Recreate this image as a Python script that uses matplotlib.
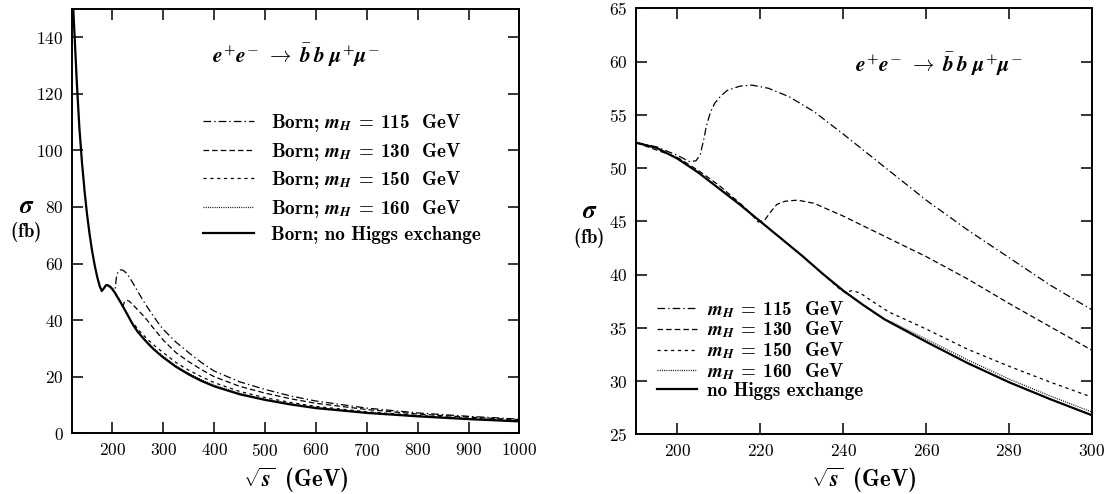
"""Cross section sigma(e+e- -> bbar b mu+ mu-) vs sqrt(s), two panels."""

import matplotlib

matplotlib.use("Agg")
import matplotlib.pyplot as plt  # noqa: E402

plt.rcParams["font.family"] = "cmr10"
plt.rcParams["axes.formatter.use_mathtext"] = True
plt.rcParams["mathtext.fontset"] = "custom"
plt.rcParams["mathtext.rm"] = "cmb10"
plt.rcParams["mathtext.bf"] = "cmb10"
plt.rcParams["mathtext.it"] = "STIXGeneral:italic:bold"
plt.rcParams["mathtext.fallback"] = "cm"
plt.rcParams["lines.scale_dashes"] = False

# no Higgs exchange
rs_none = [120, 123, 126, 130, 135, 140, 145, 150, 155, 160, 165, 170, 175, 179,
           183, 187, 190, 195, 200, 205, 210, 215, 220, 225, 230, 235, 240, 245,
           250, 260, 270, 280, 290, 300, 325, 350, 375, 400, 450, 500, 550, 600,
           700, 800, 900, 1000]
sig_none = [162, 150, 139, 124, 108, 96, 86, 77.5, 70.5, 64.5, 59.5, 55.3, 52.0, 50.3,
            51.2, 52.3, 52.4, 51.9, 50.9, 49.6, 48.1, 46.6, 45.0, 43.4, 41.8, 40.1, 38.5, 37.1,
            35.8, 33.7, 31.7, 29.9, 28.3, 26.8, 23.5, 20.8, 18.5, 16.6, 13.8, 11.8, 10.2, 8.9,
            7.2, 6.0, 5.0, 4.2]

# m_H = 115 GeV
rs_115 = [190, 195, 200, 203, 204.5, 205.5, 206.3, 207, 208, 209, 210.5, 212, 215, 218,
          222, 227, 233, 240, 250, 260, 270, 280, 290, 300, 325, 350, 375, 400, 450,
          500, 550, 600, 700, 800, 900, 1000]
sig_115 = [52.4, 52.0, 51.2, 50.6, 50.7, 51.3, 52.6, 54.0, 55.3, 56.1, 56.8, 57.3, 57.7, 57.8,
           57.5, 56.7, 55.3, 53.2, 50.1, 47.0, 44.2, 41.6, 39.0, 36.7, 32.2, 28.5, 25.0, 22.0, 18.2,
           15.5, 13.2, 11.4, 8.9, 7.2, 6.0, 5.0]

# m_H = 130 GeV
rs_130 = [190, 200, 205, 210, 216, 218, 219.5, 221, 222.5, 224, 226, 229, 233, 240,
          250, 260, 270, 280, 290, 300, 325, 350, 375, 400, 450, 500, 550, 600, 700,
          800, 900, 1000]
sig_130 = [52.4, 51.0, 49.8, 48.4, 46.4, 45.6, 44.95, 45.1, 45.9, 46.6, 46.9, 47.0, 46.7, 45.5,
           43.6, 41.7, 39.6, 37.3, 35.1, 32.9, 28.5, 25.3, 22.5, 20.0, 16.6, 14.2, 12.2, 10.6, 8.4,
           6.8, 5.7, 4.8]

# m_H = 150 GeV
rs_150 = [230, 235, 239, 240.5, 242, 244, 247, 251, 260, 270, 280, 290, 300, 325,
          350, 375, 400, 450, 500, 550, 600, 700, 800, 900, 1000]
sig_150 = [41.8, 40.1, 38.7, 38.3, 38.5, 38.3, 37.5, 36.5, 34.9, 33.0, 31.4, 29.9, 28.5, 25.0,
           22.3, 20.0, 17.9, 14.8, 12.6, 10.9, 9.5, 7.6, 6.3, 5.3, 4.5]

# m_H = 160 GeV
rs_160 = [240, 245, 250, 252, 255, 260, 270, 280, 290, 300, 325, 350, 375, 400,
          450, 500, 550, 600, 700, 800, 900, 1000]
sig_160 = [38.5, 37.1, 35.8, 35.5, 34.9, 33.95, 32.0, 30.2, 28.6, 27.1, 23.8, 21.2, 18.9, 17.0,
           14.1, 12.0, 10.4, 9.1, 7.3, 6.1, 5.1, 4.3]

mass_labels = ["115", "130", "150", "160"]
PROCESS = r"$e^{\!+}\!e^{\!-}\;\to\;\bar{b}\,b\ \mu^{\!+}\!\mu^{\!-}$"

curves = [
    (rs_115, sig_115, dict(color="black", lw=0.9, dashes=(5.5, 2.2, 1, 2.2))),
    (rs_130, sig_130, dict(color="black", lw=0.9, dashes=(4.0, 2.2))),
    (rs_150, sig_150, dict(color="black", lw=0.9, dashes=(2.3, 2.6))),
    (rs_160, sig_160, dict(color="black", lw=0.9, dashes=(0.7, 0.9))),
    (rs_none, sig_none, dict(color="black", lw=1.6)),
]


def style_axes(ax, xlim, ylim, xticks, yticks):
    ax.set_xlim(*xlim)
    ax.set_ylim(*ylim)
    ax.set_xticks(xticks)
    ax.set_yticks(yticks)
    ax.tick_params(direction="in", length=8, width=1.1, top=True, right=True,
                   labelsize=12.5, pad=6)
    for sp in ax.spines.values():
        sp.set_linewidth(1.4)


def draw_panel(ax, labels, legend_kw):
    for (xs, ys, kw), lab in zip(curves, labels):
        ax.plot(xs, ys, label=lab, **kw)
    ax.legend(frameon=False, loc="upper left", borderaxespad=0, borderpad=0,
              prop={"family": "cmb10", "size": 13.8}, **legend_kw)


fig = plt.figure(figsize=(11.14, 4.94), dpi=100)
ax1 = fig.add_axes([0.0644, 0.1229, 0.4019, 0.8589])
ax2 = fig.add_axes([0.5709, 0.1206, 0.4093, 0.8623])

mh = r"$m_H\;=\;{}$  GeV"
left_labels = ["Born; " + mh.format(m) for m in mass_labels] + ["Born; no Higgs exchange"]
right_labels = [mh.format(m) for m in mass_labels] + ["no Higgs exchange"]

draw_panel(ax1, left_labels, dict(bbox_to_anchor=(0.293, 0.757), handlelength=2.65,
                                   handletextpad=0.88, labelspacing=0.34))
style_axes(ax1, (120, 1000), (0, 150), range(200, 1001, 100), range(0, 141, 20))

draw_panel(ax2, right_labels, dict(bbox_to_anchor=(0.045, 0.318), handlelength=2.1,
                                    handletextpad=0.55, labelspacing=0.0))
style_axes(ax2, (190, 300), (25, 65), range(200, 301, 20), range(25, 66, 5))

ax1.text(0.313, 0.89, PROCESS, transform=ax1.transAxes, fontsize=15.5, va="center")
ax2.text(0.48, 0.87, PROCESS, transform=ax2.transAxes, fontsize=15.5, va="center")

for ax, xs, ys in [(ax1, 0.024, 0.582), (ax2, 0.529, 0.571)]:
    fig.text(xs, ys, r"$\sigma$", fontsize=18, ha="center", va="center")
    fig.text(xs - 0.001, ys - 0.052, r"$\mathrm{(fb)}$", fontsize=13.5, ha="center", va="center")
    ax.set_xlabel(r"$\sqrt{s}\ \ \mathrm{(GeV)}$", fontsize=16.5, labelpad=5)

fig.savefig("out.png", dpi=100)
